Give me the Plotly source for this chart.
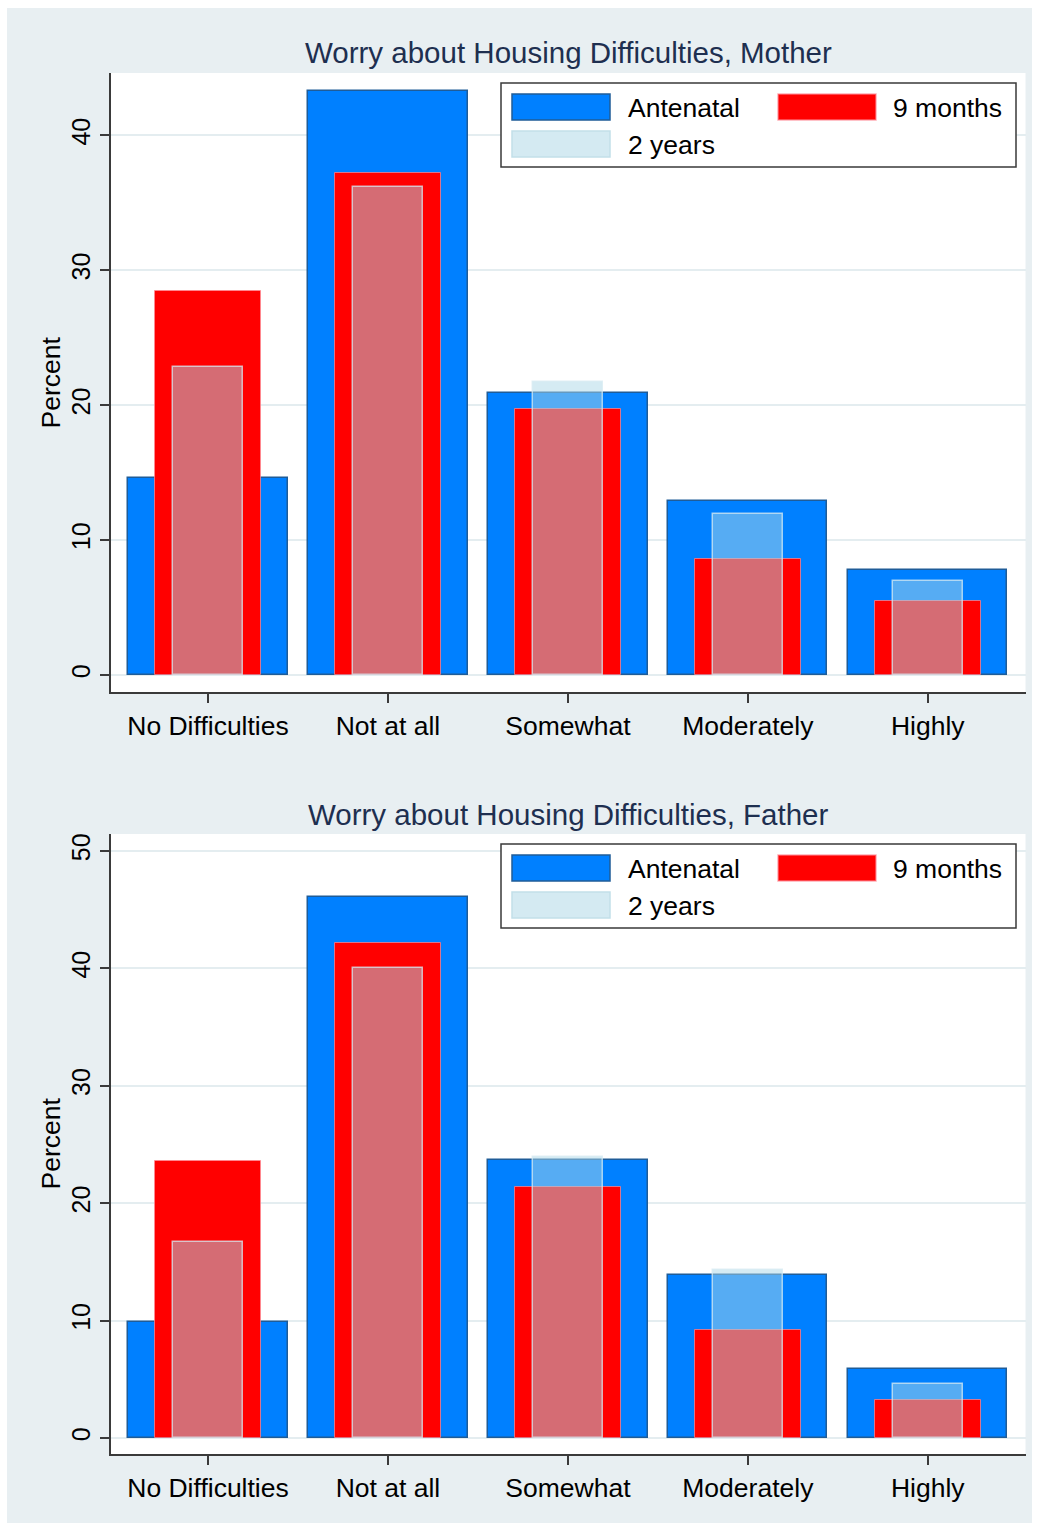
import plotly.graph_objects as go

# Response categories and percentages for each survey wave
categories = ["No Difficulties", "Not at all", "Somewhat", "Moderately", "Highly"]

mother_antenatal = [14.6, 43.3, 20.9, 12.9, 7.8]
mother_9months = [28.5, 37.2, 19.7, 8.6, 5.5]
mother_2years = [22.8, 36.2, 21.7, 11.9, 7.0]

father_antenatal = [9.9, 46.1, 23.7, 13.9, 5.9]
father_9months = [23.6, 42.2, 21.4, 9.2, 3.2]
father_2years = [16.7, 40.0, 23.9, 14.3, 4.6]

panel_titles = ["Worry about Housing Difficulties, Mother",
                "Worry about Housing Difficulties, Father"]
wave_names = ["Antenatal", "9 months", "2 years"]
y_ticks_top = [0, 10, 20, 30, 40]
y_ticks_bottom = [0, 10, 20, 30, 40, 50]

W, H = 1039, 1523
FONT = "Liberation Sans, Arial, sans-serif"
BG = "#e8eff2"
GRID = "#e4edf0"
AXIS = "#3a3a3a"
TITLE_COLOR = "#1e2f50"

BLUE = "#0080ff"
BLUE_LINE = "#1f5c98"
RED = "#ff0000"
RED_LINE = "rgba(255,140,150,0.7)"
LTBLUE = "rgba(172,215,231,0.5)"
LTBLUE_LINE = "rgba(215,235,242,0.75)"


def px(x):
    return x / W


def py(y):
    return 1 - y / H


fig = go.Figure()

panels = [
    (mother_antenatal, mother_9months, mother_2years, "x", "y"),
    (father_antenatal, father_9months, father_2years, "x2", "y2"),
]

for ant, m9, y2, xa, ya in panels:
    fig.add_trace(go.Bar(x=categories, y=ant, width=0.885, name=wave_names[0],
                         marker=dict(color=BLUE, line=dict(color=BLUE_LINE, width=1.5)),
                         xaxis=xa, yaxis=ya, showlegend=False))
    fig.add_trace(go.Bar(x=categories, y=m9, width=0.59, name=wave_names[1],
                         marker=dict(color=RED, line=dict(color=RED_LINE, width=1)),
                         xaxis=xa, yaxis=ya, showlegend=False))
    fig.add_trace(go.Bar(x=categories, y=y2, width=0.39, name=wave_names[2],
                         marker=dict(color=LTBLUE, line=dict(color=LTBLUE_LINE, width=1.5)),
                         xaxis=xa, yaxis=ya, showlegend=False))

x_common = dict(
    type="category", range=[-0.539, 4.543], domain=[px(111), px(1025.5)],
    showline=True, linecolor=AXIS, linewidth=1.5,
    ticks="outside", ticklen=9, tickcolor=AXIS, tickwidth=1.5,
    showgrid=False, zeroline=False,
    tickfont=dict(family=FONT, size=26.5, color="black"),
)
y_common = dict(
    showline=True, linecolor=AXIS, linewidth=1.5,
    ticks="outside", ticklen=9, tickcolor=AXIS, tickwidth=1.5,
    showgrid=True, gridcolor=GRID, gridwidth=1.5, zeroline=False,
    tickangle=-90, ticklabelstandoff=0,
    tickfont=dict(family=FONT, size=25, color="black"),
)

fig.update_layout(
    width=W, height=H,
    margin=dict(l=0, r=0, t=0, b=0),
    paper_bgcolor=BG, plot_bgcolor="white",
    barmode="overlay", bargap=0,
    showlegend=False,
    xaxis=dict(anchor="y", **x_common),
    yaxis=dict(anchor="x", domain=[py(692), py(73)], range=[-1.26, 44.63],
               tickvals=y_ticks_top, **y_common),
    xaxis2=dict(anchor="y2", **x_common),
    yaxis2=dict(anchor="x2", domain=[py(1454), py(834)], range=[-1.36, 51.45],
                tickvals=y_ticks_bottom, **y_common),
)

shapes = [
    # white frame around the light background
    dict(type="rect", xref="paper", yref="paper", x0=0, x1=px(7), y0=0, y1=1,
         fillcolor="white", line=dict(width=0), layer="below"),
    dict(type="rect", xref="paper", yref="paper", x0=0, x1=1, y0=py(8), y1=1,
         fillcolor="white", line=dict(width=0), layer="below"),
    dict(type="rect", xref="paper", yref="paper", x0=px(1032), x1=1, y0=0, y1=1,
         fillcolor="white", line=dict(width=0), layer="below"),
]
annotations = []

for i, dy in enumerate([0, 761]):
    # panel title and y-axis title
    annotations.append(dict(text=panel_titles[i], xref="paper", yref="paper",
                            x=px(568), y=py(53 + dy), showarrow=False,
                            xanchor="center", yanchor="middle",
                            font=dict(family=FONT, size=29.5, color=TITLE_COLOR)))
    annotations.append(dict(text="Percent", xref="paper", yref="paper",
                            x=px(50), y=py(382.5 + dy), showarrow=False, textangle=-90,
                            xanchor="center", yanchor="middle",
                            font=dict(family=FONT, size=26.5, color="black")))
    # legend box
    shapes.append(dict(type="rect", xref="paper", yref="paper",
                       x0=px(501), x1=px(1016), y0=py(167 + dy), y1=py(83 + dy),
                       fillcolor="white", line=dict(color=AXIS, width=1.5)))
    swatches = [
        (512, 94, BLUE, BLUE_LINE, wave_names[0], 626),
        (778, 94, RED, RED_LINE, wave_names[1], 891),
        (512, 131, "#d4eaf2", "#c2dfe9", wave_names[2], 626),
    ]
    for sx, sy, fill, edge, label, tx in swatches:
        shapes.append(dict(type="rect", xref="paper", yref="paper",
                           x0=px(sx), x1=px(sx + 98), y0=py(sy + 26 + dy), y1=py(sy + dy),
                           fillcolor=fill, line=dict(color=edge, width=1.5)))
        annotations.append(dict(text=label, xref="paper", yref="paper",
                                x=px(tx), y=py(sy + 14 + dy), showarrow=False,
                                xanchor="left", yanchor="middle",
                                font=dict(family=FONT, size=26.5, color="black")))

fig.update_layout(shapes=shapes, annotations=annotations)

fig.write_html("out.html")
